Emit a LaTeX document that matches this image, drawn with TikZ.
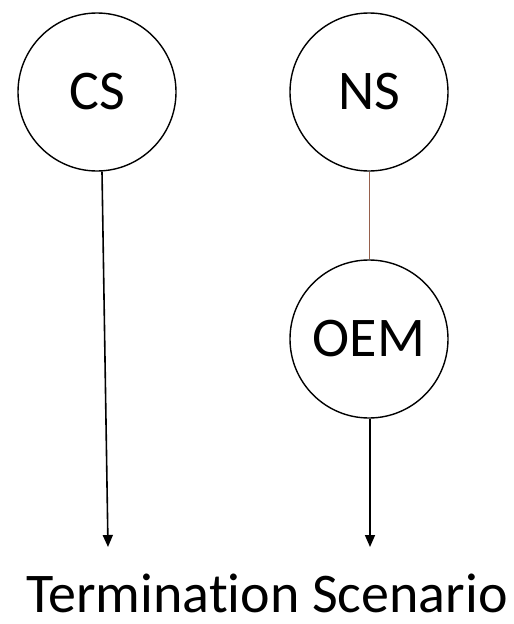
\documentclass[tikz,border=0pt]{standalone}
\usepackage{fontspec}
\setmainfont[Ligatures={NoCommon,NoRequired,NoContextual}]{Carlito}
\usetikzlibrary{arrows.meta}
\definecolor{linkbrown}{RGB}{150,95,75}
\begin{document}
\begin{tikzpicture}[x=1pt,y=-1pt,
  state/.style={circle,draw=black,line width=1.4pt,minimum size=158pt,inner sep=0pt,font=\fontsize{56}{60}\selectfont},
  arrowline/.style={line width=1.6pt,-{Triangle[width=10pt,length=12pt]}},
  link/.style={draw=linkbrown,line width=1pt}]
\useasboundingbox (0,0) rectangle (514,624);
\node[state] (cs) at (97,92) {CS};
\node[state] (ns) at (369,92) {NS};
\node[state] (oem) at (369,339) {OEM};
\coordinate (csend) at (108,547);
\coordinate (oemend) at (370,547);
\node[anchor=base,inner sep=0pt,font=\fontsize{56}{60}\selectfont] (title) at (267,612) {Terminat\kern0pt ion Scenario};
\draw[arrowline] ([xshift=5pt]cs.south) -- (csend);
\draw[link] (ns) -- (oem);
\draw[arrowline] ([xshift=1pt]oem.south) -- (oemend);
\end{tikzpicture}
\end{document}
